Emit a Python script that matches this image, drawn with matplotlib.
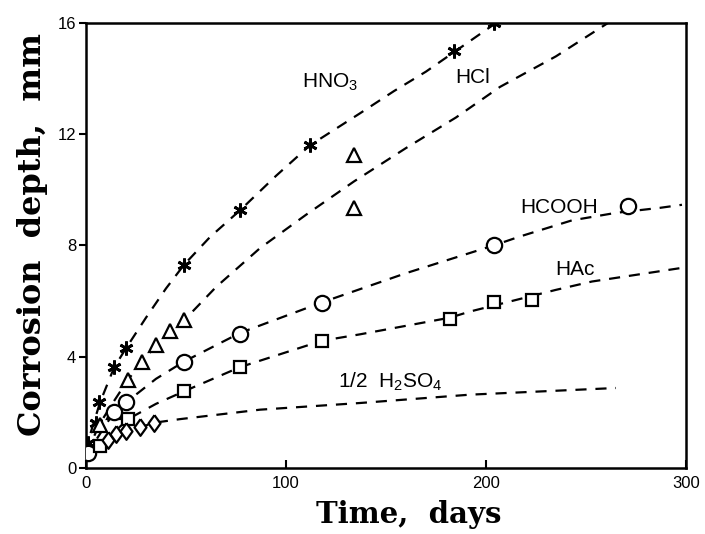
import matplotlib
matplotlib.use('Agg')
import matplotlib.pyplot as plt

plt.rcParams['font.family'] = ['Liberation Sans', 'DejaVu Sans']
plt.rcParams['mathtext.default'] = 'regular'

# measured points (days, mm)
hno3_t = [1, 5, 6.5, 14, 20, 49, 77, 112, 184, 204]
hno3_d = [0.9, 1.6, 2.35, 3.64, 4.3, 7.3, 9.26, 11.6, 15.0, 16.0]
hcl_t = [7, 14, 21, 28, 35, 42, 49, 134, 134]
hcl_d = [1.55, 2.0, 3.17, 3.8, 4.4, 4.93, 5.3, 9.35, 11.26]
hcooh_t = [1, 14, 20, 49, 77, 118, 204, 271]
hcooh_d = [0.53, 2.0, 2.38, 3.82, 4.82, 5.92, 8.02, 9.4]
hac_t = [7, 21, 49, 77, 118, 182, 204, 223]
hac_d = [0.8, 1.75, 2.75, 3.62, 4.57, 5.36, 5.96, 6.02]
h2so4_t = [11, 15, 20, 27, 34]
h2so4_d = [1.0, 1.2, 1.31, 1.45, 1.62]

# fitted curves
hno3_ct = [0, 1, 4, 7, 14, 20, 30, 40, 49, 62, 77, 95, 112, 137, 154, 170, 184, 204]
hno3_cd = [0.55, 0.95, 1.65, 2.35, 3.6, 4.3, 5.4, 6.45, 7.3, 8.3, 9.26, 10.5, 11.6, 12.75, 13.55, 14.25, 14.95, 15.95]
hcl_ct = [0, 7, 14, 21, 28, 35, 42, 49, 65, 87, 110, 134, 160, 185, 207, 235, 261]
hcl_cd = [0.5, 1.6, 2.4, 3.17, 3.8, 4.4, 4.93, 5.3, 6.5, 7.9, 9.1, 10.3, 11.5, 12.6, 13.7, 14.8, 16.0]
hcooh_ct = [0, 1, 14, 20, 35, 49, 77, 118, 160, 204, 217, 243, 265, 287, 298]
hcooh_cd = [0.45, 0.55, 2.0, 2.35, 3.2, 3.82, 4.85, 5.95, 7.0, 8.0, 8.32, 8.9, 9.17, 9.35, 9.46]
hac_ct = [0, 7, 21, 35, 49, 77, 118, 137, 182, 192, 213, 235, 253, 297]
hac_cd = [0.4, 0.8, 1.75, 2.3, 2.75, 3.62, 4.57, 4.8, 5.4, 5.62, 6.0, 6.4, 6.7, 7.18]
h2so4_ct = [0, 11, 15, 20, 27, 34, 47, 87, 137, 192, 265]
h2so4_cd = [0.4, 1.0, 1.2, 1.31, 1.45, 1.62, 1.75, 2.09, 2.33, 2.63, 2.87]

fig = plt.figure(figsize=(7.05, 5.34), dpi=100)
ax = fig.add_axes([0.122, 0.124, 0.851, 0.833])

dash = dict(color='black', linewidth=1.6, dashes=(5, 4), zorder=2)
ax.plot(hno3_ct, hno3_cd, **dash)
ax.plot(hcl_ct, hcl_cd, **dash)
ax.plot(hcooh_ct, hcooh_cd, **dash)
ax.plot(hac_ct, hac_cd, **dash)
ax.plot(h2so4_ct, h2so4_cd, **dash)

# tall open diamond like the original
diamond = [(0, 1), (0.72, 0), (0, -1), (-0.72, 0), (0, 1)]

mk = dict(linestyle='none', markerfacecolor='white', markeredgecolor='black', zorder=3)
ax.plot(hno3_t, hno3_d, marker=(6, 2, 0), markersize=10, markeredgewidth=2, **mk)
ax.plot(hcl_t, hcl_d, marker='^', markersize=10, markeredgewidth=1.6, **mk)
ax.plot(hcooh_t, hcooh_d, marker='o', markersize=11, markeredgewidth=1.6, **mk)
ax.plot(hac_t, hac_d, marker='s', markersize=9, markeredgewidth=1.6, **mk)
ax.plot(h2so4_t, h2so4_d, marker=diamond, markersize=12, markeredgewidth=1.6, **mk)

lbl = dict(fontsize=15, ha='left', va='baseline')
ax.text(108, 13.67, 'HNO$_3$', **lbl)
ax.text(184.5, 13.85, 'HCl', **lbl)
ax.text(217, 9.18, 'HCOOH', **lbl)
ax.text(234.5, 6.94, 'HAc', **lbl)
ax.text(126, 2.88, '1/2  H$_2$SO$_4$', **lbl)

ax.set_xlim(0, 300)
ax.set_ylim(0, 16)
ax.set_xticks([0, 100, 200, 300])
ax.set_yticks([0, 4, 8, 12, 16])
ax.tick_params(axis='x', direction='in', length=6, width=1.5, labelsize=12, pad=6)
ax.tick_params(axis='y', direction='out', length=5, width=1.5, labelsize=12, pad=2)
for s in ax.spines.values():
    s.set_linewidth(1.8)

ax.set_xlabel('Time,  days', fontsize=21, fontweight='bold', family='DejaVu Serif')
ax.set_ylabel('Corrosion  depth,  mm', fontsize=23, fontweight='bold', family='DejaVu Serif')
ax.xaxis.set_label_coords(0.538, -0.072)
ax.yaxis.set_label_coords(-0.064, 0.524)

fig.savefig('out.png', dpi=100)
